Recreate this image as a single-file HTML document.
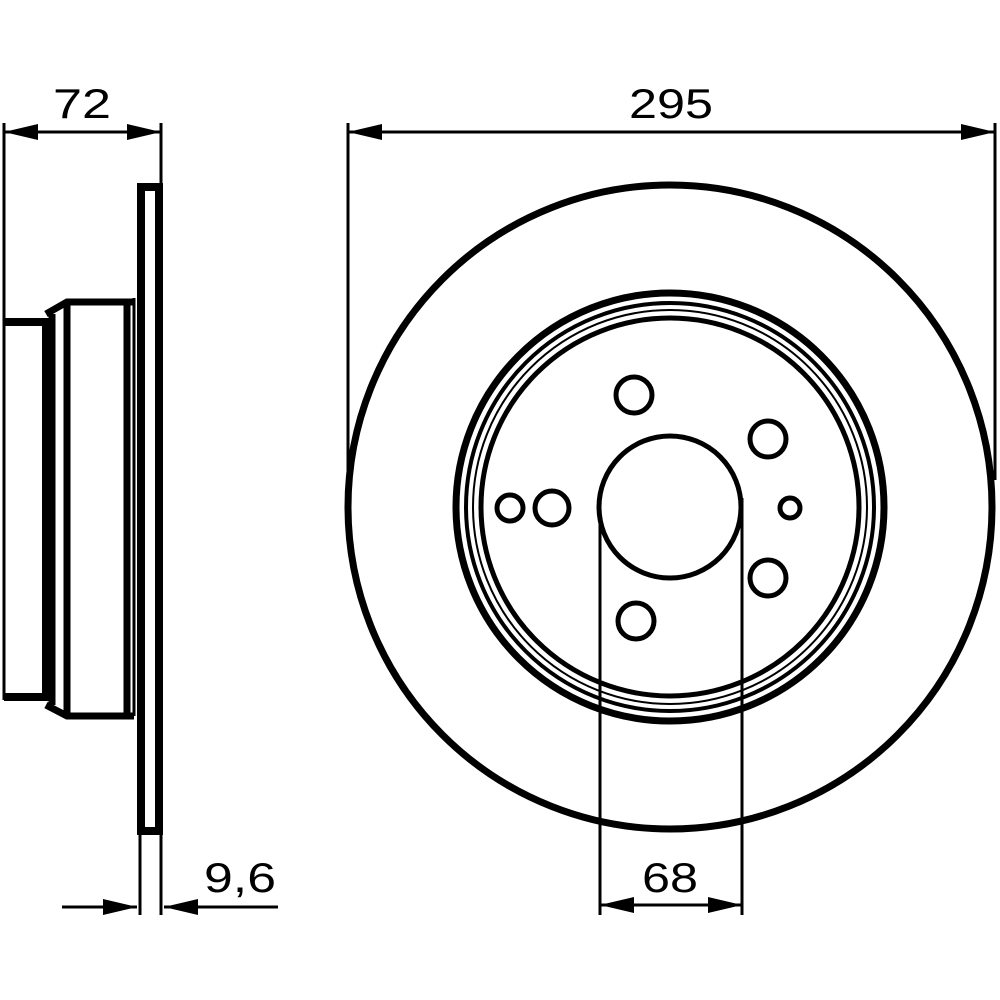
<!DOCTYPE html>
<html><head><style>html,body{margin:0;padding:0;background:#fff}svg{display:block}</style></head>
<body>
<svg width="1000" height="1000" viewBox="0 0 1000 1000" xmlns="http://www.w3.org/2000/svg">
<g fill="none" stroke="#000">
<!-- Side view -->
<line x1="4" y1="123" x2="4" y2="700" stroke-width="3"/>
<line x1="161" y1="123" x2="161" y2="186" stroke-width="3"/>
<path d="M4 322 H46 V697 H4" stroke-width="8"/>
<path d="M46 314 L67 302 H134" stroke-width="7"/>
<path d="M46 705 L67 716 H134" stroke-width="7"/>
<line x1="52" y1="314" x2="52" y2="705" stroke-width="7"/>
<line x1="67" y1="302" x2="67" y2="716" stroke-width="7"/>
<line x1="127" y1="302" x2="127" y2="716" stroke-width="7"/>
<line x1="134" y1="298" x2="134" y2="716" stroke-width="3"/>
<rect x="141" y="187" width="18" height="644" stroke-width="8"/>
<line x1="140" y1="831" x2="140" y2="915" stroke-width="3"/>
<line x1="161" y1="831" x2="161" y2="915" stroke-width="3"/>
<line x1="348" y1="123" x2="348" y2="480" stroke-width="3"/>
<line x1="995" y1="123" x2="995" y2="480" stroke-width="3"/>
<!-- dim lines -->
<line x1="4" y1="132" x2="161" y2="132" stroke-width="3"/>
<line x1="348" y1="132" x2="995" y2="132" stroke-width="3"/>
<line x1="62" y1="907" x2="137" y2="907" stroke-width="3"/>
<line x1="164" y1="907" x2="278" y2="907" stroke-width="3"/>
<line x1="600" y1="905" x2="742" y2="905" stroke-width="3"/>
<!-- Front view -->
<circle cx="670" cy="507" r="322" stroke-width="7"/>
<circle cx="670" cy="507" r="214" stroke-width="7"/>
<circle cx="670" cy="507" r="204" stroke-width="4"/>
<circle cx="670" cy="507" r="197" stroke-width="2"/>
<circle cx="670" cy="507" r="189" stroke-width="5"/>
<circle cx="670" cy="507" r="71" stroke-width="5"/>
<line x1="600" y1="498" x2="600" y2="915" stroke-width="3"/>
<line x1="742" y1="498" x2="742" y2="915" stroke-width="3"/>
<circle cx="634" cy="395" r="18" stroke-width="5"/>
<circle cx="768" cy="439" r="18" stroke-width="5"/>
<circle cx="768" cy="578" r="18" stroke-width="5"/>
<circle cx="636" cy="621" r="18" stroke-width="5"/>
<circle cx="552" cy="508" r="17" stroke-width="5"/>
<circle cx="510" cy="508" r="13" stroke-width="5"/>
<circle cx="790" cy="508" r="10" stroke-width="5"/>
</g>
<g fill="#000">
<polygon points="4,132 38,124 38,140"/>
<polygon points="161,132 127,124 127,140"/>
<polygon points="348,132 382,124 382,140"/>
<polygon points="995,132 961,124 961,140"/>
<polygon points="137,907 103,899 103,915"/>
<polygon points="164,907 198,899 198,915"/>
<polygon points="600,905 634,897 634,913"/>
<polygon points="742,905 708,897 708,913"/>
</g>
<g font-family="Liberation Sans, sans-serif" font-size="42" fill="#000" text-anchor="middle">
<text x="82" y="118" textLength="58" lengthAdjust="spacingAndGlyphs">72</text>
<text x="671" y="118" textLength="84" lengthAdjust="spacingAndGlyphs">295</text>
<text x="670" y="892" textLength="56" lengthAdjust="spacingAndGlyphs">68</text>
<text x="240" y="892" textLength="72" lengthAdjust="spacingAndGlyphs">9,6</text>
</g>
</svg>
</body></html>
